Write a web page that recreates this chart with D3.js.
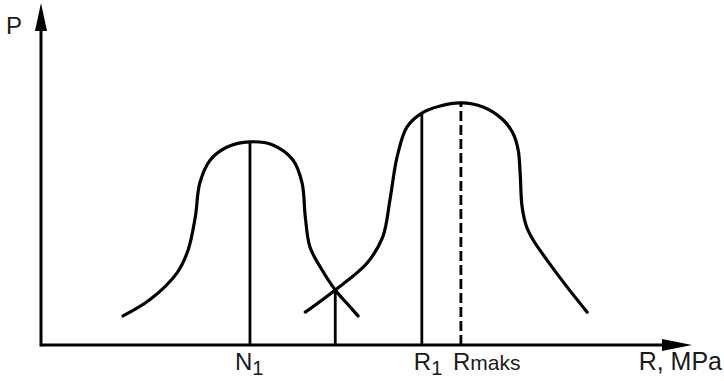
<!DOCTYPE html>
<html>
<head>
<meta charset="utf-8">
<script src="https://cdn.jsdelivr.net/npm/d3@7/dist/d3.min.js"></script>
<style>
  html, body { margin: 0; padding: 0; background: #fff; }
  svg { display: block; }
  text { font-family: "Liberation Sans", Arial, sans-serif; fill: #1a1a1a; }
</style>
</head>
<body>
<svg id="chart" width="724" height="381"></svg>
<script>
// Strength distribution curves (abstract units: R along x, P along y)
const leftR = [12.6, 16.7, 20.9, 22.6, 23.7, 24.4, 26.0, 28.6, 32.1, 35.6, 38.7, 40.1, 40.6, 41.3, 42.9, 45.2, 47.5, 48.7];
const leftP = [8.5, 13.2, 21.1, 27.8, 37.4, 47.4, 54.1, 57.9, 59.4, 58.5, 54.1, 47.4, 37.4, 28.7, 22.8, 16.1, 11.1, 8.5];

const rightR = [40.6, 45.2, 50.1, 52.5, 53.6, 54.7, 56.2, 58.5, 61.3, 64.5, 67.9, 71.0, 72.5, 73.3, 73.6, 73.9, 74.6, 75.6, 77.7, 80.8, 83.9];
const rightP = [9.6, 16.1, 24.0, 31.6, 42.4, 55.0, 63.7, 67.8, 69.9, 70.8, 69.6, 65.8, 61.9, 57.0, 50.3, 40.4, 34.5, 30.7, 24.9, 17.0, 9.6];

// Vertical markers: position, height, label parts, dashed
const markerR   = [32.1, 45.2, 58.5, 64.5];
const markerTop = [59.4, 16.1, 67.8, 70.8];
const markerMain = ["N", "", "R", "R"];
const markerSub  = ["1", "", "1", ""];
const markerSuffix = ["", "", "", "maks"];
const markerDashed = [false, false, false, true];

const axisLabelX = "R, MPa";
const axisLabelY = "P";

const svg = d3.select("#chart");
const x0 = 41, y0 = 345;
const x = d3.scaleLinear().domain([0, 100]).range([x0, 692]);
const y = d3.scaleLinear().domain([0, 100]).range([y0, 3]);

// Curves
const line = d3.line()
  .x(d => x(d[0]))
  .y(d => y(d[1]))
  .curve(d3.curveCatmullRom.alpha(0.5));

[[leftR, leftP], [rightR, rightP]].forEach(([rs, ps]) => {
  svg.append("path")
    .attr("d", line(rs.map((r, i) => [r, ps[i]])))
    .attr("fill", "none")
    .attr("stroke", "#000")
    .attr("stroke-width", 3.2)
    .attr("stroke-linecap", "round");
});

// Markers
markerR.forEach((r, i) => {
  svg.append("line")
    .attr("x1", x(r)).attr("x2", x(r))
    .attr("y1", y(0)).attr("y2", y(markerTop[i]))
    .attr("stroke", "#000")
    .attr("stroke-width", 2.8)
    .attr("stroke-dasharray", markerDashed[i] ? "10,4" : null);
});

// Axes
svg.append("line")
  .attr("x1", x0).attr("x2", x(97)).attr("y1", y0).attr("y2", y0)
  .attr("stroke", "#000").attr("stroke-width", 3);
svg.append("line")
  .attr("x1", x0).attr("x2", x0).attr("y1", y0 + 1.5).attr("y2", y(94))
  .attr("stroke", "#000").attr("stroke-width", 3);

// Arrow heads
svg.append("path")
  .attr("d", `M${x(100)},${y0} L${x(100) - 30},${y0 - 6} L${x(100) - 30},${y0 + 6} Z`)
  .attr("fill", "#000");
svg.append("path")
  .attr("d", `M${x0},${y(100)} L${x0 - 6},${y(100) + 28} L${x0 + 6},${y(100) + 28} Z`)
  .attr("fill", "#000");

// Axis titles
svg.append("text")
  .attr("x", 6).attr("y", 34)
  .attr("font-size", 24)
  .text(axisLabelY);
svg.append("text")
  .attr("x", 722).attr("y", 370)
  .attr("text-anchor", "end")
  .attr("font-size", 25)
  .text(axisLabelX);

// Marker labels: the N label sits left of its line, R labels are centred on the capital
const labelShift = { N: -15, R: -8 };
markerR.forEach((r, i) => {
  if (!markerMain[i]) return;
  const t = svg.append("text")
    .attr("x", x(r) + labelShift[markerMain[i]])
    .attr("y", 370)
    .attr("font-size", 24);
  t.append("tspan").text(markerMain[i]);
  if (markerSub[i]) {
    t.append("tspan").attr("font-size", 20).attr("dy", 5).text(markerSub[i]);
  }
  if (markerSuffix[i]) {
    t.append("tspan").attr("font-size", 21).text(markerSuffix[i]);
  }
});
</script>
</body>
</html>
